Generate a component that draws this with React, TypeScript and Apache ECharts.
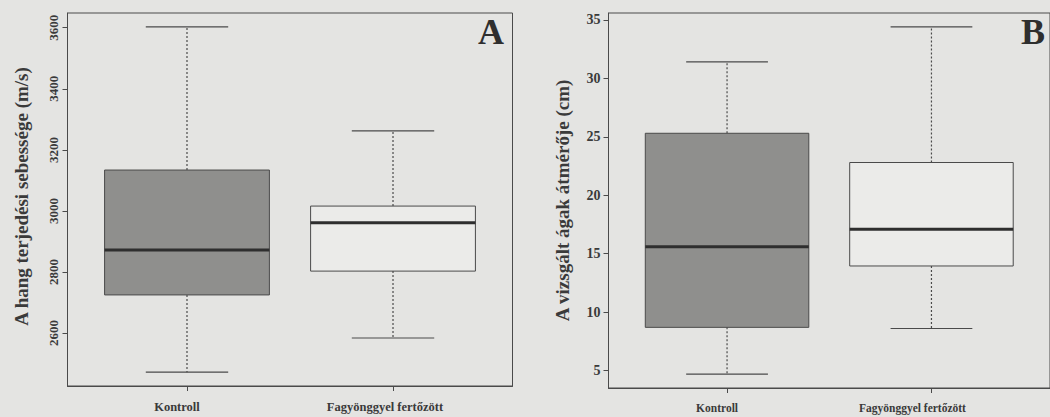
import React, { useEffect, useRef } from "react";
import * as echarts from "echarts";

const categories = ["Kontroll", "Fagyönggyel fertőzött"];
// [min, Q1, median, Q3, max]
const speedStats = [
  [2472, 2725, 2872, 3134, 3603],
  [2584, 2803, 2961, 3016, 3262],
];
const diameterStats = [
  [4.7, 8.7, 15.6, 25.3, 31.4],
  [8.6, 13.95, 17.1, 22.8, 34.4],
];
const speedTicks = [2600, 2800, 3000, 3200, 3400, 3600];
const diameterTicks = [5, 10, 15, 20, 25, 30, 35];
const boxFills = ["#8f8f8d", "#ebebe9"];

const PAPER = "#e4e4e2";
const INK = "#3a3a3a";
const LINE = "#4a4a4a";
const SERIF = "'Liberation Serif', 'DejaVu Serif', serif";

function rRange(stats: number[][]) {
  const all = stats.flat();
  const lo = Math.min(...all);
  const hi = Math.max(...all);
  const pad = (hi - lo) * 0.04;
  return [lo - pad, hi + pad];
}

function renderBox(params: any, api: any) {
  const x = api.value(0);
  const mn = api.value(1);
  const q1 = api.value(2);
  const md = api.value(3);
  const q3 = api.value(4);
  const mx = api.value(5);
  const idx = params.dataIndex;
  const pl = api.coord([x - 0.4, q3]);
  const pr = api.coord([x + 0.4, q1]);
  const c = (yy: number) => api.coord([x, yy]);
  const capL = (yy: number) => api.coord([x - 0.2, yy]);
  const capR = (yy: number) => api.coord([x + 0.2, yy]);
  const medL = api.coord([x - 0.4, md]);
  const medR = api.coord([x + 0.4, md]);
  const dashed = { stroke: LINE, lineWidth: 1.2, lineDash: [2, 2] };
  const solid = { stroke: LINE, lineWidth: 1.2 };
  return {
    type: "group",
    children: [
      { type: "line", shape: { x1: c(q3)[0], y1: c(q3)[1], x2: c(mx)[0], y2: c(mx)[1] }, style: dashed },
      { type: "line", shape: { x1: c(q1)[0], y1: c(q1)[1], x2: c(mn)[0], y2: c(mn)[1] }, style: dashed },
      { type: "line", shape: { x1: capL(mx)[0], y1: capL(mx)[1], x2: capR(mx)[0], y2: capR(mx)[1] }, style: solid },
      { type: "line", shape: { x1: capL(mn)[0], y1: capL(mn)[1], x2: capR(mn)[0], y2: capR(mn)[1] }, style: solid },
      {
        type: "rect",
        shape: { x: pl[0], y: pl[1], width: pr[0] - pl[0], height: pr[1] - pl[1] },
        style: { fill: boxFills[idx], stroke: LINE, lineWidth: 1 },
      },
      { type: "line", shape: { x1: medL[0], y1: medL[1], x2: medR[0], y2: medR[1] }, style: { stroke: "#2e2e2e", lineWidth: 3 } },
    ],
  };
}

export default function App() {
  const ref = useRef<HTMLDivElement>(null);
  useEffect(() => {
    document.body.style.margin = "0";
    document.body.style.background = PAPER;
    const chart = echarts.init(ref.current!, null, { renderer: "svg" });
    const [aMin, aMax] = rRange(speedStats);
    const [bMin, bMax] = rRange(diameterStats);
    const xAxisBase = (padK: number, padF: number, size: number) => ({
      type: "value",
      min: 0.42,
      max: 2.58,
      splitLine: { show: false },
      axisLine: { show: true, lineStyle: { color: LINE } },
      axisTick: { show: true, customValues: [1, 2], length: 5, lineStyle: { color: LINE } },
      axisLabel: {
        customValues: [1, 2],
        margin: 14,
        formatter: (v: number) => (v === 1 ? `{k|${categories[0]}}` : `{f|${categories[1]}}`),
        rich: {
          k: { fontFamily: SERIF, fontWeight: "bold", fontSize: size, color: INK, padding: [0, padK, 0, 0] },
          f: { fontFamily: SERIF, fontWeight: "bold", fontSize: size, color: INK, padding: [0, padF, 0, 0] },
        },
      },
    });
    const option: any = {
      animation: false,
      backgroundColor: PAPER,
      grid: [
        { left: 67.5, top: 13, width: 445, height: 373, show: true, borderColor: LINE, borderWidth: 1, backgroundColor: "transparent" },
        { left: 608.5, top: 13, width: 445, height: 375, show: true, borderColor: LINE, borderWidth: 1, backgroundColor: "transparent" },
      ],
      xAxis: [
        { ...xAxisBase(20, 16, 12.5), gridIndex: 0 },
        { ...xAxisBase(20, 38, 11.5), gridIndex: 1 },
      ],
      yAxis: [
        {
          type: "value",
          gridIndex: 0,
          min: aMin,
          max: aMax,
          splitLine: { show: false },
          axisLine: { show: true, lineStyle: { color: LINE } },
          axisTick: { show: true, customValues: speedTicks, length: 5, lineStyle: { color: LINE } },
          axisLabel: {
            customValues: speedTicks,
            formatter: (v: number) => String(v),
            rotate: 90,
            margin: 8,
            fontFamily: SERIF,
            fontWeight: "bold",
            fontSize: 13,
            color: INK,
          },
          name: "A hang terjedési sebessége (m/s)",
          nameLocation: "middle",
          nameGap: 37,
          nameTextStyle: { fontFamily: SERIF, fontWeight: "bold", fontSize: 19, color: INK, padding: [0, 0, 0, 6] },
        },
        {
          type: "value",
          gridIndex: 1,
          min: bMin,
          max: bMax,
          splitLine: { show: false },
          axisLine: { show: true, lineStyle: { color: LINE } },
          axisTick: { show: true, customValues: diameterTicks, length: 5, lineStyle: { color: LINE } },
          axisLabel: {
            customValues: diameterTicks,
            formatter: (v: number) => String(v),
            margin: 8,
            fontFamily: SERIF,
            fontWeight: "bold",
            fontSize: 14,
            color: INK,
          },
          name: "A vizsgált ágak átmérője (cm)",
          nameLocation: "middle",
          nameGap: 37,
          nameTextStyle: { fontFamily: SERIF, fontWeight: "bold", fontSize: 19, color: INK },
        },
      ],
      graphic: [
        { type: "text", left: 478, top: 14, style: { text: "A", font: `bold 36px ${SERIF}`, fill: "#2e2e2e" } },
        { type: "text", left: 1021, top: 14, style: { text: "B", font: `bold 36px ${SERIF}`, fill: "#2e2e2e" } },
      ],
      series: [
        {
          type: "custom",
          xAxisIndex: 0,
          yAxisIndex: 0,
          renderItem: renderBox,
          encode: { x: 0, y: [1, 2, 3, 4, 5] },
          data: speedStats.map((s, i) => [i + 1, ...s]),
          clip: false,
        },
        {
          type: "custom",
          xAxisIndex: 1,
          yAxisIndex: 1,
          renderItem: renderBox,
          encode: { x: 0, y: [1, 2, 3, 4, 5] },
          data: diameterStats.map((s, i) => [i + 1, ...s]),
          clip: false,
        },
      ],
    };
    chart.setOption(option);
    return () => chart.dispose();
  }, []);
  return <div ref={ref} style={{ width: 1050, height: 417 }} />;
}
